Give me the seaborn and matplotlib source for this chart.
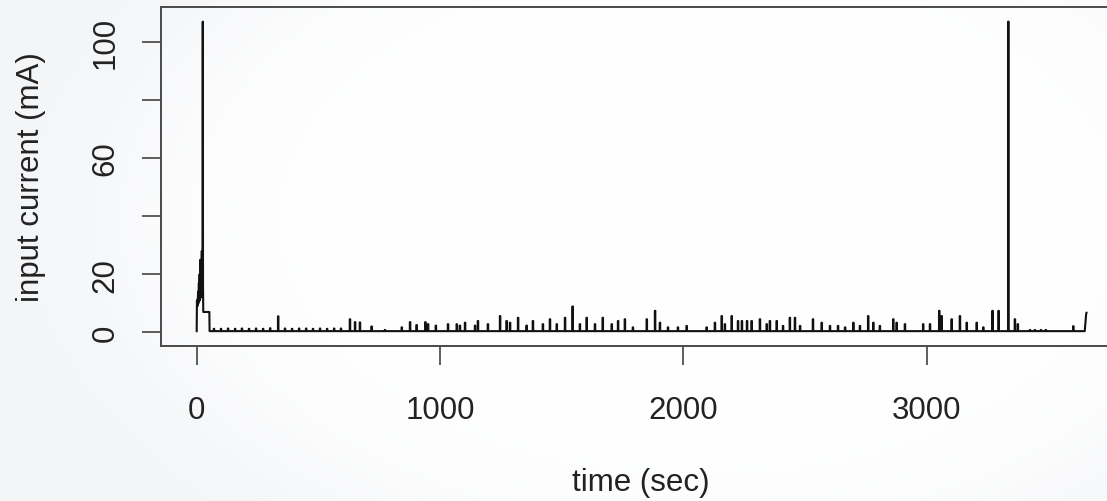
import numpy as np
import pandas as pd
import matplotlib
matplotlib.use("Agg")
import matplotlib.pyplot as plt
import seaborn as sns

# ---------------- data ----------------
onset_time = [0, 1, 3, 6, 7, 9, 10, 12, 13, 15, 16, 18, 19, 21, 22, 24, 25, 26, 27, 52, 53]
onset_current = [0.3, 11, 9, 14, 10, 17, 12, 20, 11, 25, 14, 19, 12, 28, 15, 22, 107, 16, 7, 7, 0.4]

spike_time = [71, 100, 129, 158, 186, 215, 244, 273, 302, 335,
              363, 392, 421, 450, 478, 507, 536, 565, 593, 630, 651, 671,
              719, 774, 843, 877, 904, 940, 951, 983, 1033, 1069, 1082, 1103,
              1144, 1156, 1197, 1247, 1274, 1288, 1321, 1356, 1382, 1423, 1452,
              1480, 1514, 1545, 1575, 1603, 1637, 1669, 1706, 1732, 1760, 1793,
              1850, 1884, 1904, 1937, 1978, 2014, 2096, 2130, 2158, 2171, 2199,
              2225, 2241, 2262, 2281, 2315, 2343, 2356, 2384, 2410, 2438, 2459,
              2480, 2533, 2569, 2603, 2636, 2665, 2699, 2726, 2760, 2781, 2808,
              2863, 2877, 2911, 2986, 3014, 3052, 3062, 3103, 3137, 3165, 3206,
              3233, 3271, 3296, 3336, 3363, 3375, 3425, 3445, 3470, 3490, 3603]
spike_current = [1.2, 1.2, 1.3, 1.2, 1.3, 1.2, 1.3, 1.2, 1.4, 5.5,
                 1.3, 1.2, 1.3, 1.3, 1.2, 1.3, 1.2, 1.3, 1.3, 4.5, 3.5, 3.4,
                 2.0, 0.8, 1.7, 3.5, 2.5, 3.5, 2.8, 2.3, 2.8, 2.8, 2.3, 3.3,
                 2.3, 3.9, 2.8, 5.6, 3.9, 3.3, 5.0, 2.3, 3.9, 2.8, 4.5,
                 2.8, 5.0, 8.9, 2.8, 5.0, 2.8, 5.0, 2.8, 3.9, 4.5, 1.7,
                 4.5, 7.4, 3.3, 1.7, 1.7, 2.2, 1.7, 3.3, 5.6, 2.8, 5.6,
                 3.9, 3.9, 3.9, 3.9, 4.5, 2.8, 3.9, 3.9, 2.2, 5.0, 5.0,
                 2.2, 4.5, 3.3, 2.2, 2.2, 1.7, 3.3, 2.2, 5.6, 3.3, 2.2,
                 4.5, 3.3, 2.8, 2.8, 2.8, 7.4, 5.6, 4.5, 5.6, 3.3, 3.3,
                 1.7, 7.4, 7.4, 107, 4.5, 2.8, 0.8, 0.8, 0.8, 0.8, 2.1]
baseline_current = 0.4
end_time = [3650, 3656, 3658]
end_current = [0.4, 6.5, 6.8]

x_ticks = [0, 1000, 2000, 3000]
x_tick_labels = ["0", "1000", "2000", "3000"]
y_ticks = [0, 20, 40, 60, 80, 100]
y_tick_labels = ["0", "20", "", "60", "", "100"]
x_label = "time (sec)"
y_label = "input current (mA)"

# ---------------- build the trace table ----------------
t_list = list(onset_time)
c_list = list(onset_current)
for t, c in zip(spike_time, spike_current):
    t_list += [t - 1.0, t - 1.0, t + 1.0, t + 1.0]
    c_list += [baseline_current, c, c, baseline_current]
t_list += end_time
c_list += end_current
trace = pd.DataFrame({"time": t_list, "current": c_list})

# ---------------- figure ----------------
sns.set_theme(style="white")
plt.rcParams["font.family"] = ["Liberation Sans", "DejaVu Sans"]

W, H = 1107, 502
fig = plt.figure(figsize=(W / 100, H / 100), dpi=100)
fig.patch.set_facecolor("#eef1f4")

# soft background swirl (decoration)
bg = fig.add_axes([0, 0, 1, 1], zorder=0)
yy, xx = np.mgrid[0:H, 0:W]
d = ((xx - 700) / 560.0) ** 2 + ((yy - 220) / 340.0) ** 2
w = 1.0 / (1.0 + np.exp((d - 1.0) * 5.0))
base = np.array([0.918, 0.929, 0.945])
img = base[None, None, :] + (1 - base[None, None, :]) * (0.45 + 0.55 * w)[..., None]
bg.imshow(img, aspect="auto", extent=[0, 1, 0, 1], origin="upper")
bg.axis("off")

left, right, top, bottom = 161, 1121, 8, 347
ax = fig.add_axes([left / W, 1 - bottom / H, (right - left) / W, (bottom - top) / H], zorder=1)
ax.set_facecolor("none")

sns.lineplot(data=trace, x="time", y="current", sort=False, estimator=None,
             color="#111111", linewidth=1.5, ax=ax)

ax.set_xlim(-146.7, 3799)
ax.set_ylim(-4.72, 112.05)

ax.set_xticks(x_ticks)
ax.set_xticklabels(x_tick_labels)
ax.set_yticks(y_ticks)
ax.set_yticklabels(y_tick_labels, rotation=90, va="center")

ax.tick_params(axis="both", direction="out", length=13.5, width=1.1, color="#333333",
               labelsize=22.5, labelcolor="#222222", bottom=True, left=True)
ax.tick_params(axis="x", pad=21.5)
ax.tick_params(axis="y", pad=15.7)

for s in ax.spines.values():
    s.set_visible(True)
    s.set_color("#4a4a4a")
    s.set_linewidth(1.4)

ax.set_xlabel(x_label, fontsize=22.5, color="#222222")
ax.set_ylabel(y_label, fontsize=22.5, color="#222222")
ax.xaxis.set_label_coords(0.5, (bottom - 483) / (bottom - top))
ax.xaxis.label.set_va("center")
ax.yaxis.set_label_coords((31 - left) / (right - left), 0.5)
ax.yaxis.label.set_va("center")

fig.savefig("out.png", dpi=100)
